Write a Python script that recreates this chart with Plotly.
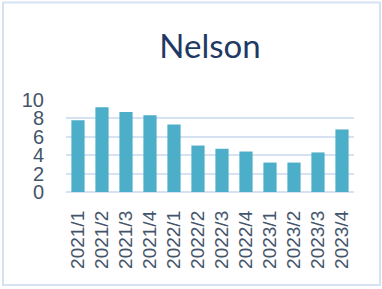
import plotly.graph_objects as go

categories = ["2021/1", "2021/2", "2021/3", "2021/4",
              "2022/1", "2022/2", "2022/3", "2022/4",
              "2023/1", "2023/2", "2023/3", "2023/4"]
values = [7.8, 9.2, 8.7, 8.35, 7.35, 5.05, 4.7, 4.4, 3.2, 3.2, 4.3, 6.8]
y_ticks = [0, 2, 4, 6, 8, 10]
title_text = "Nelson"

W, H = 382, 289
ML, MR, MT, MB = 66, 28, 100, 97

fig = go.Figure()
fig.add_trace(go.Bar(
    x=categories, y=values,
    marker=dict(color="#4DAEC9", line=dict(width=0)),
    hoverinfo="x+y",
))

pw = W - ML - MR
ph = H - MT - MB
def px_x(p):
    return (p - ML) / pw
def px_y(p):
    return (H - MB - p) / ph

tick_font = dict(size=19, color="#44546A", family="'Liberation Sans', Arial, sans-serif")

fig.update_layout(
    width=W, height=H,
    margin=dict(l=ML, r=MR, t=MT, b=MB, pad=0, autoexpand=False),
    paper_bgcolor="white", plot_bgcolor="white",
    font=dict(family="Lato, 'Open Sans', sans-serif", color="#44546A", size=19),
    title=dict(text=title_text, x=0.5, xref="paper", xanchor="center",
               y=1 - 46 / H, yanchor="middle",
               font=dict(size=33, color="#1F3864", family="Lato, 'Open Sans', sans-serif")),
    bargap=0.45,
    showlegend=False,
    xaxis=dict(
        type="category", tickangle=-90, showgrid=False, showline=False,
        ticks="", tickfont=tick_font,
        ticklabelstandoff=14, automargin=False,
    ),
    yaxis=dict(
        range=[0, 10], tickvals=y_ticks, showgrid=True, gridcolor="#D6E1F2",
        gridwidth=2, zeroline=True, zerolinecolor="#D6E1F2", zerolinewidth=2,
        showline=False, ticks="", tickfont=dict(tick_font, size=20),
        ticklabelstandoff=21, automargin=False,
    ),
    shapes=[dict(
        type="rect", xref="paper", yref="paper",
        x0=px_x(3), x1=px_x(380), y0=px_y(285), y1=px_y(2.5),
        line=dict(color="#D6E1F2", width=2), fillcolor="rgba(0,0,0,0)",
        layer="below",
    )],
)

fig.write_html("out.html", config={"displayModeBar": False},
               post_script="document.body.style.margin='0';document.body.style.overflow='hidden';")
